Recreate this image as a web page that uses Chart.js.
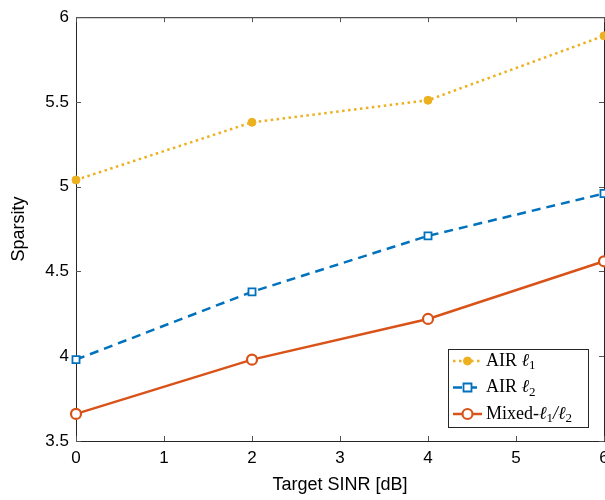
<!DOCTYPE html>
<html>
<head>
<meta charset="utf-8">
<script src="https://cdn.jsdelivr.net/npm/chart.js@4/dist/chart.umd.min.js"></script>
<style>
  html, body { margin: 0; padding: 0; background: #fff; overflow: hidden; }
  #wrap { width: 640px; height: 500px; }
</style>
</head>
<body>
<div id="wrap"><canvas id="chart" width="640" height="500"></canvas></div>
<script>
// data
const sinr = [0, 2, 4, 6];
const airL1 = [5.04, 5.38, 5.51, 5.89];
const airL2 = [3.98, 4.38, 4.71, 4.96];
const mixed = [3.66, 3.98, 4.22, 4.56];
const xTicks = [0, 1, 2, 3, 4, 5, 6];
const yTicks = [3.5, 4, 4.5, 5, 5.5, 6];

const YELLOW = '#EDB120', BLUE = '#0072BD', ORANGE = '#D95319';

const pts = arr => arr.map((v, i) => ({x: sinr[i], y: v}));

// box + inward ticks on all four sides
const boxPlugin = {
  id: 'box',
  beforeDatasetsDraw(chart) {
    const {ctx, chartArea: a, scales: {x, y}} = chart;
    ctx.save();
    ctx.strokeStyle = '#262626';
    ctx.lineWidth = 1;
    ctx.strokeRect(a.left + 0.5, a.top + 0.5, a.right - a.left, a.bottom - a.top);
    ctx.strokeStyle = '#555';
    ctx.beginPath();
    xTicks.forEach(t => {
      const px = Math.round(x.getPixelForValue(t)) + 0.5;
      ctx.moveTo(px, a.bottom); ctx.lineTo(px, a.bottom - 5);
      ctx.moveTo(px, a.top); ctx.lineTo(px, a.top + 5);
    });
    yTicks.forEach(t => {
      const py = Math.round(y.getPixelForValue(t)) + 0.5;
      ctx.moveTo(a.left, py); ctx.lineTo(a.left + 5, py);
      ctx.moveTo(a.right, py); ctx.lineTo(a.right - 5, py);
    });
    ctx.stroke();
    ctx.restore();
  }
};

// legend box inside the plot, MATLAB style
const legendPlugin = {
  id: 'inlegend',
  afterDraw(chart) {
    const {ctx} = chart;
    const bx = 448, by = 349, bw = 140, bh = 78;
    ctx.save();
    ctx.fillStyle = '#fff';
    ctx.fillRect(bx, by, bw, bh);
    ctx.strokeStyle = '#262626';
    ctx.lineWidth = 1;
    ctx.strokeRect(bx + 0.5, by + 0.5, bw, bh);
    ctx.textBaseline = 'middle';
    const items = [
      {ds: 0, label: 'AIR ', sub: ['ℓ', '1']},
      {ds: 1, label: 'AIR ', sub: ['ℓ', '2']},
      {ds: 2, label: 'Mixed-', sub: ['ℓ', '1', '/ℓ', '2']}
    ];
    items.forEach((it, i) => {
      const d = chart.data.datasets[it.ds];
      const cy = by + 12 + i * 26.5;
      ctx.strokeStyle = d.borderColor;
      ctx.lineWidth = d.borderWidth;
      ctx.setLineDash(d.borderDash || []);
      ctx.beginPath(); ctx.moveTo(bx + 5, cy); ctx.lineTo(bx + 34, cy); ctx.stroke();
      ctx.setLineDash([]);
      ctx.lineWidth = d.pointBorderWidth;
      ctx.fillStyle = d.pointBackgroundColor;
      ctx.beginPath();
      if (d.pointStyle === 'rect') {
        ctx.rect(bx + 15.5, cy - 4, 8, 8);
      } else {
        ctx.arc(bx + 19.5, cy, d.pointRadius, 0, Math.PI * 2);
      }
      ctx.fill(); ctx.stroke();
      ctx.fillStyle = '#000';
      let tx = bx + 38;
      ctx.font = '18px "Liberation Serif", "DejaVu Serif", serif';
      ctx.fillText(it.label, tx, cy);
      tx += ctx.measureText(it.label).width;
      for (let k = 0; k < it.sub.length; k += 2) {
        ctx.font = 'italic 18px "Liberation Serif", "DejaVu Serif", serif';
        ctx.fillText(it.sub[k], tx, cy);
        tx += ctx.measureText(it.sub[k]).width;
        ctx.font = '13px "Liberation Serif", "DejaVu Serif", serif';
        ctx.fillText(it.sub[k + 1], tx, cy + 5);
        tx += ctx.measureText(it.sub[k + 1]).width;
      }
    });
    ctx.restore();
  }
};

const sans = '"Liberation Sans", Arial, sans-serif';

new Chart(document.getElementById('chart').getContext('2d'), {
  type: 'line',
  data: {
    datasets: [
      {
        label: 'AIR ℓ1', data: pts(airL1), clip: false,
        borderColor: YELLOW, borderWidth: 2.5, borderDash: [2.5, 3.5],
        pointStyle: 'circle', pointRadius: 4, pointBorderWidth: 1,
        pointBackgroundColor: YELLOW, pointBorderColor: YELLOW
      },
      {
        label: 'AIR ℓ2', data: pts(airL2), clip: false,
        borderColor: BLUE, borderWidth: 2.5, borderDash: [9, 6],
        pointStyle: 'rect', pointRadius: 5, pointBorderWidth: 1.8,
        pointBackgroundColor: '#fff', pointBorderColor: BLUE
      },
      {
        label: 'Mixed-ℓ1/ℓ2', data: pts(mixed), clip: false,
        borderColor: ORANGE, borderWidth: 2.5,
        pointStyle: 'circle', pointRadius: 5, pointBorderWidth: 2.2,
        pointBackgroundColor: '#fff', pointBorderColor: ORANGE
      }
    ]
  },
  options: {
    responsive: false,
    animation: false,
    layout: {padding: {top: 15, right: 36, left: 4, bottom: 0}},
    plugins: {legend: {display: false}, tooltip: {enabled: false}},
    scales: {
      x: {
        type: 'linear', min: 0, max: 6,
        afterBuildTicks: s => { s.ticks = xTicks.map(v => ({value: v})); },
        afterFit: s => { s.height = 59; },
        grid: {display: false, drawTicks: false},
        border: {display: false},
        ticks: {color: '#000', font: {family: sans, size: 17}, padding: 7, maxRotation: 0,
          callback: v => String(v)},
        title: {display: true, text: 'Target SINR [dB]', color: '#000',
          font: {family: sans, size: 18}, padding: {top: 12}}
      },
      y: {
        min: 3.5, max: 6,
        afterBuildTicks: s => { s.ticks = yTicks.map(v => ({value: v})); },
        afterFit: s => { s.width = 72; },
        grid: {display: false, drawTicks: false},
        border: {display: false},
        ticks: {color: '#000', font: {family: sans, size: 17}, padding: 7,
          callback: v => String(v)},
        title: {display: true, text: 'Sparsity', color: '#000',
          font: {family: sans, size: 18}, padding: {bottom: 0}}
      }
    }
  },
  plugins: [boxPlugin, legendPlugin]
});
</script>
</body>
</html>
